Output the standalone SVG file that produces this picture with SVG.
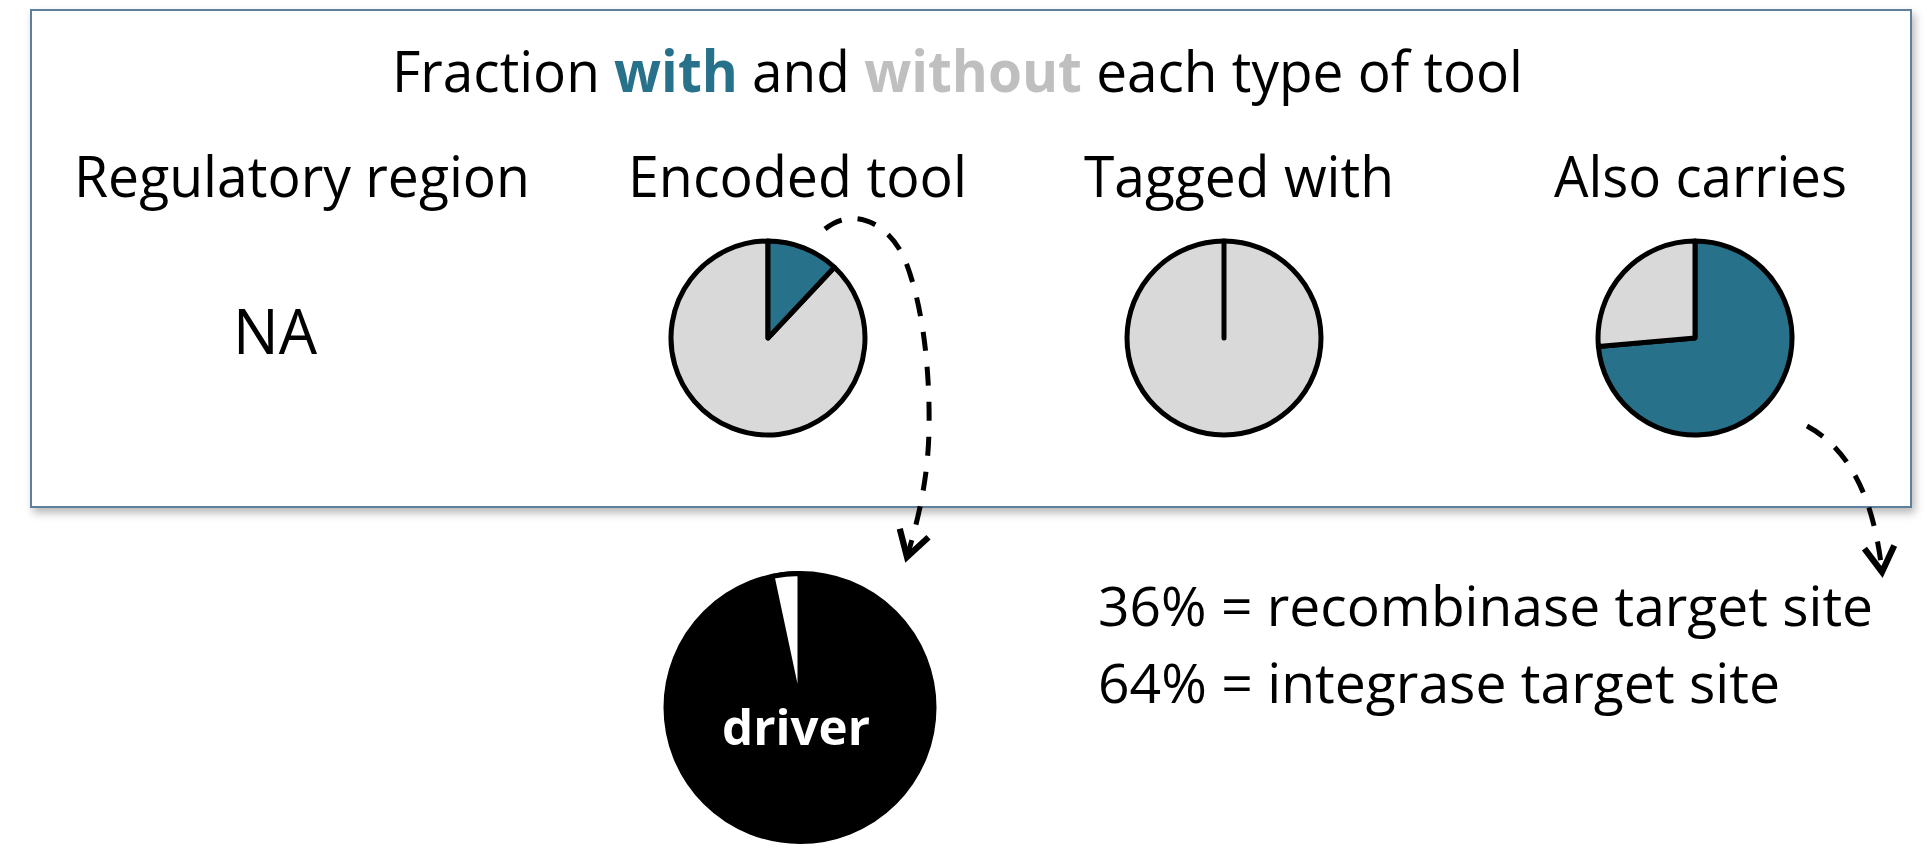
<svg xmlns="http://www.w3.org/2000/svg" width="1927" height="862" viewBox="0 0 1927 862">
  <defs>
    <filter id="shadow" x="-5%" y="-5%" width="110%" height="115%">
      <feDropShadow dx="3" dy="5" stdDeviation="4" flood-color="#000" flood-opacity="0.28"/>
    </filter>
    <marker id="vhead" markerUnits="userSpaceOnUse" markerWidth="40" markerHeight="40" viewBox="-26 -16 32 32" refX="0" refY="0" orient="auto">
      <path d="M -20 -12 L 0 0 L -20 12" fill="none" stroke="#000" stroke-width="5" stroke-linejoin="miter" stroke-linecap="butt"/>
    </marker>
    <style>
      text { font-family: "Open Sans", "Noto Sans", "Liberation Sans", sans-serif; fill: #000; }
      .head { font-size: 57px; }
      .na { font-size: 63px; }
      .note { font-size: 54px; }
      .pie { stroke: #000; stroke-width: 5; stroke-linejoin: round; }
      .with { fill: #27728A; }
      .without { fill: #D9D9D9; }
      .link { fill: none; stroke: #000; stroke-width: 5; stroke-dasharray: 19 16; }
    </style>
  </defs>

  <rect width="1927" height="862" fill="#fff"/>

  <!-- summary panel -->
  <g id="panel">
    <rect x="31" y="10" width="1880" height="497" fill="#fff" stroke="#5F809C" stroke-width="2" filter="url(#shadow)"/>
    <text class="head" x="392" y="92" textLength="1131" lengthAdjust="spacingAndGlyphs">Fraction <tspan font-weight="bold" fill="#27728A">with</tspan> and <tspan font-weight="bold" fill="#BFBFBF">without</tspan> each type of tool</text>
  </g>

  <g id="regulatory-region">
    <text class="head" x="74" y="197" textLength="456" lengthAdjust="spacingAndGlyphs">Regulatory region</text>
    <text class="na" x="233" y="354" textLength="84" lengthAdjust="spacingAndGlyphs">NA</text>
  </g>

  <g id="encoded-tool">
    <text class="head" x="628" y="197" textLength="339" lengthAdjust="spacingAndGlyphs">Encoded tool</text>
    <path class="pie without" d="M768 338 L834.4 267.3 A97 97 0 1 1 768 241 Z"/>
    <path class="pie with" d="M768 338 L768 241 A97 97 0 0 1 834.4 267.3 Z"/>
  </g>

  <g id="tagged-with">
    <text class="head" x="1084" y="197" textLength="310" lengthAdjust="spacingAndGlyphs">Tagged with</text>
    <circle class="pie without" cx="1224" cy="338" r="97"/>
    <line x1="1224" y1="241" x2="1224" y2="338" stroke="#000" stroke-width="5" stroke-linecap="round"/>
  </g>

  <g id="also-carries">
    <text class="head" x="1554" y="197" textLength="293" lengthAdjust="spacingAndGlyphs">Also carries</text>
    <path class="pie with" d="M1695 338 L1695 241 A97 97 0 1 1 1598.4 346.5 Z"/>
    <path class="pie without" d="M1695 338 L1598.4 346.5 A97 97 0 0 1 1695 241 Z"/>
  </g>

  <g id="driver">
    <circle cx="800" cy="707.5" r="134" fill="#000" stroke="#000" stroke-width="5"/>
    <path d="M800 707.5 L772.1 576.4 A134 134 0 0 1 800 573.5 Z" fill="#fff" stroke="#000" stroke-width="5" stroke-linejoin="round"/>
    <text x="722" y="745" font-size="49" font-weight="bold" style="fill:#fff" textLength="148" lengthAdjust="spacingAndGlyphs">driver</text>
  </g>

  <g id="target-sites">
    <text class="note" x="1098" y="626" textLength="775" lengthAdjust="spacingAndGlyphs">36% = recombinase target site</text>
    <text class="note" x="1098" y="703" textLength="682" lengthAdjust="spacingAndGlyphs">64% = integrase target site</text>
  </g>

  <!-- dashed connectors -->
  <g id="connectors">
    <path class="link" d="M825 229 C855 205 890 225 905 260 C925 310 930 380 929 430 C928 480 918 520 907 557" marker-end="url(#vhead)"/>
    <path class="link" d="M1807 426 Q1870 460 1882 572" marker-end="url(#vhead)"/>
  </g>
</svg>
